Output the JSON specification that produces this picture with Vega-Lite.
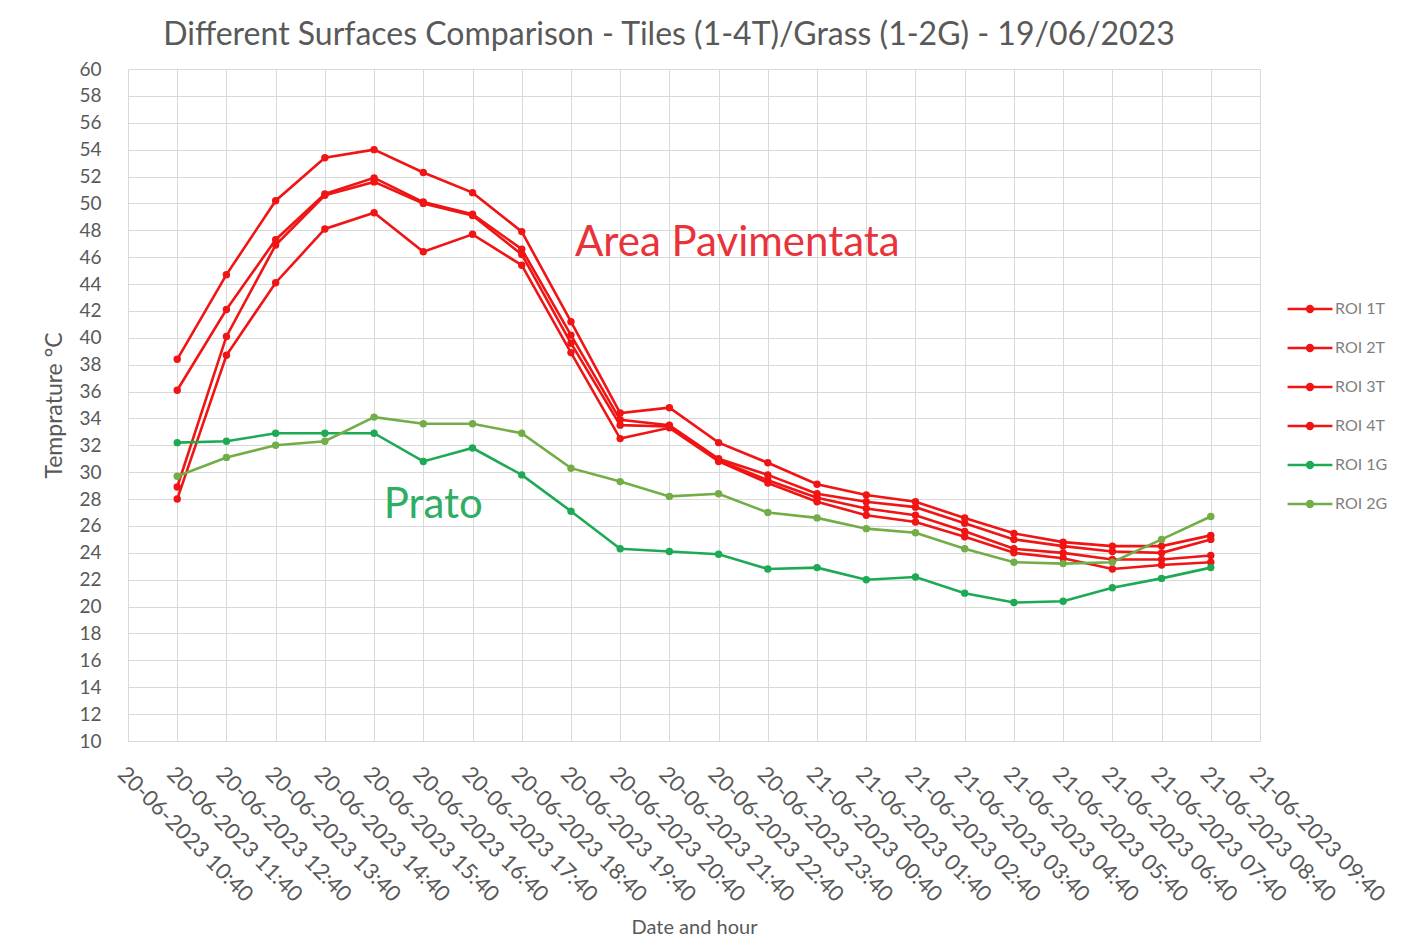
{
  "$schema": "https://vega.github.io/schema/vega-lite/v6.json",
  "width": 1132,
  "height": 672,
  "autosize": "none",
  "padding": {"left": 128, "top": 69, "right": 157, "bottom": 206},
  "background": "white",
  "title": {
    "text": "Different Surfaces Comparison - Tiles (1-4T)/Grass (1-2G) - 19/06/2023",
    "font": "Lato",
    "fontSize": 32,
    "fontWeight": "normal",
    "color": "#595959",
    "anchor": "middle",
    "dx": -25,
    "offset": 8
  },
  "datasets": {
    "series": [
      {"t": "20-06-2023 11:40", "s": "ROI 1T", "v": 38.4},
      {"t": "20-06-2023 12:40", "s": "ROI 1T", "v": 44.7},
      {"t": "20-06-2023 13:40", "s": "ROI 1T", "v": 50.2},
      {"t": "20-06-2023 14:40", "s": "ROI 1T", "v": 53.4},
      {"t": "20-06-2023 15:40", "s": "ROI 1T", "v": 54.0},
      {"t": "20-06-2023 16:40", "s": "ROI 1T", "v": 52.3},
      {"t": "20-06-2023 17:40", "s": "ROI 1T", "v": 50.8},
      {"t": "20-06-2023 18:40", "s": "ROI 1T", "v": 47.9},
      {"t": "20-06-2023 19:40", "s": "ROI 1T", "v": 41.2},
      {"t": "20-06-2023 20:40", "s": "ROI 1T", "v": 34.4},
      {"t": "20-06-2023 21:40", "s": "ROI 1T", "v": 34.8},
      {"t": "20-06-2023 22:40", "s": "ROI 1T", "v": 32.2},
      {"t": "20-06-2023 23:40", "s": "ROI 1T", "v": 30.7},
      {"t": "21-06-2023 00:40", "s": "ROI 1T", "v": 29.1},
      {"t": "21-06-2023 01:40", "s": "ROI 1T", "v": 28.3},
      {"t": "21-06-2023 02:40", "s": "ROI 1T", "v": 27.8},
      {"t": "21-06-2023 03:40", "s": "ROI 1T", "v": 26.6},
      {"t": "21-06-2023 04:40", "s": "ROI 1T", "v": 25.45},
      {"t": "21-06-2023 05:40", "s": "ROI 1T", "v": 24.8},
      {"t": "21-06-2023 06:40", "s": "ROI 1T", "v": 24.5},
      {"t": "21-06-2023 07:40", "s": "ROI 1T", "v": 24.5},
      {"t": "21-06-2023 08:40", "s": "ROI 1T", "v": 25.3},

      {"t": "20-06-2023 11:40", "s": "ROI 2T", "v": 36.1},
      {"t": "20-06-2023 12:40", "s": "ROI 2T", "v": 42.1},
      {"t": "20-06-2023 13:40", "s": "ROI 2T", "v": 47.3},
      {"t": "20-06-2023 14:40", "s": "ROI 2T", "v": 50.7},
      {"t": "20-06-2023 15:40", "s": "ROI 2T", "v": 51.9},
      {"t": "20-06-2023 16:40", "s": "ROI 2T", "v": 50.1},
      {"t": "20-06-2023 17:40", "s": "ROI 2T", "v": 49.2},
      {"t": "20-06-2023 18:40", "s": "ROI 2T", "v": 46.6},
      {"t": "20-06-2023 19:40", "s": "ROI 2T", "v": 40.2},
      {"t": "20-06-2023 20:40", "s": "ROI 2T", "v": 33.9},
      {"t": "20-06-2023 21:40", "s": "ROI 2T", "v": 33.5},
      {"t": "20-06-2023 22:40", "s": "ROI 2T", "v": 31.0},
      {"t": "20-06-2023 23:40", "s": "ROI 2T", "v": 29.8},
      {"t": "21-06-2023 00:40", "s": "ROI 2T", "v": 28.4},
      {"t": "21-06-2023 01:40", "s": "ROI 2T", "v": 27.8},
      {"t": "21-06-2023 02:40", "s": "ROI 2T", "v": 27.4},
      {"t": "21-06-2023 03:40", "s": "ROI 2T", "v": 26.2},
      {"t": "21-06-2023 04:40", "s": "ROI 2T", "v": 25.0},
      {"t": "21-06-2023 05:40", "s": "ROI 2T", "v": 24.5},
      {"t": "21-06-2023 06:40", "s": "ROI 2T", "v": 24.1},
      {"t": "21-06-2023 07:40", "s": "ROI 2T", "v": 24.0},
      {"t": "21-06-2023 08:40", "s": "ROI 2T", "v": 25.0},

      {"t": "20-06-2023 11:40", "s": "ROI 3T", "v": 28.9},
      {"t": "20-06-2023 12:40", "s": "ROI 3T", "v": 40.1},
      {"t": "20-06-2023 13:40", "s": "ROI 3T", "v": 46.9},
      {"t": "20-06-2023 14:40", "s": "ROI 3T", "v": 50.6},
      {"t": "20-06-2023 15:40", "s": "ROI 3T", "v": 51.6},
      {"t": "20-06-2023 16:40", "s": "ROI 3T", "v": 50.0},
      {"t": "20-06-2023 17:40", "s": "ROI 3T", "v": 49.1},
      {"t": "20-06-2023 18:40", "s": "ROI 3T", "v": 46.2},
      {"t": "20-06-2023 19:40", "s": "ROI 3T", "v": 39.6},
      {"t": "20-06-2023 20:40", "s": "ROI 3T", "v": 33.5},
      {"t": "20-06-2023 21:40", "s": "ROI 3T", "v": 33.4},
      {"t": "20-06-2023 22:40", "s": "ROI 3T", "v": 30.9},
      {"t": "20-06-2023 23:40", "s": "ROI 3T", "v": 29.4},
      {"t": "21-06-2023 00:40", "s": "ROI 3T", "v": 28.1},
      {"t": "21-06-2023 01:40", "s": "ROI 3T", "v": 27.3},
      {"t": "21-06-2023 02:40", "s": "ROI 3T", "v": 26.8},
      {"t": "21-06-2023 03:40", "s": "ROI 3T", "v": 25.6},
      {"t": "21-06-2023 04:40", "s": "ROI 3T", "v": 24.3},
      {"t": "21-06-2023 05:40", "s": "ROI 3T", "v": 24.0},
      {"t": "21-06-2023 06:40", "s": "ROI 3T", "v": 23.5},
      {"t": "21-06-2023 07:40", "s": "ROI 3T", "v": 23.5},
      {"t": "21-06-2023 08:40", "s": "ROI 3T", "v": 23.8},

      {"t": "20-06-2023 11:40", "s": "ROI 4T", "v": 28.0},
      {"t": "20-06-2023 12:40", "s": "ROI 4T", "v": 38.7},
      {"t": "20-06-2023 13:40", "s": "ROI 4T", "v": 44.1},
      {"t": "20-06-2023 14:40", "s": "ROI 4T", "v": 48.1},
      {"t": "20-06-2023 15:40", "s": "ROI 4T", "v": 49.3},
      {"t": "20-06-2023 16:40", "s": "ROI 4T", "v": 46.4},
      {"t": "20-06-2023 17:40", "s": "ROI 4T", "v": 47.7},
      {"t": "20-06-2023 18:40", "s": "ROI 4T", "v": 45.4},
      {"t": "20-06-2023 19:40", "s": "ROI 4T", "v": 38.9},
      {"t": "20-06-2023 20:40", "s": "ROI 4T", "v": 32.5},
      {"t": "20-06-2023 21:40", "s": "ROI 4T", "v": 33.3},
      {"t": "20-06-2023 22:40", "s": "ROI 4T", "v": 30.8},
      {"t": "20-06-2023 23:40", "s": "ROI 4T", "v": 29.2},
      {"t": "21-06-2023 00:40", "s": "ROI 4T", "v": 27.8},
      {"t": "21-06-2023 01:40", "s": "ROI 4T", "v": 26.8},
      {"t": "21-06-2023 02:40", "s": "ROI 4T", "v": 26.3},
      {"t": "21-06-2023 03:40", "s": "ROI 4T", "v": 25.2},
      {"t": "21-06-2023 04:40", "s": "ROI 4T", "v": 24.0},
      {"t": "21-06-2023 05:40", "s": "ROI 4T", "v": 23.6},
      {"t": "21-06-2023 06:40", "s": "ROI 4T", "v": 22.8},
      {"t": "21-06-2023 07:40", "s": "ROI 4T", "v": 23.1},
      {"t": "21-06-2023 08:40", "s": "ROI 4T", "v": 23.3},

      {"t": "20-06-2023 11:40", "s": "ROI 1G", "v": 32.2},
      {"t": "20-06-2023 12:40", "s": "ROI 1G", "v": 32.3},
      {"t": "20-06-2023 13:40", "s": "ROI 1G", "v": 32.9},
      {"t": "20-06-2023 14:40", "s": "ROI 1G", "v": 32.9},
      {"t": "20-06-2023 15:40", "s": "ROI 1G", "v": 32.9},
      {"t": "20-06-2023 16:40", "s": "ROI 1G", "v": 30.8},
      {"t": "20-06-2023 17:40", "s": "ROI 1G", "v": 31.8},
      {"t": "20-06-2023 18:40", "s": "ROI 1G", "v": 29.8},
      {"t": "20-06-2023 19:40", "s": "ROI 1G", "v": 27.1},
      {"t": "20-06-2023 20:40", "s": "ROI 1G", "v": 24.3},
      {"t": "20-06-2023 21:40", "s": "ROI 1G", "v": 24.1},
      {"t": "20-06-2023 22:40", "s": "ROI 1G", "v": 23.9},
      {"t": "20-06-2023 23:40", "s": "ROI 1G", "v": 22.8},
      {"t": "21-06-2023 00:40", "s": "ROI 1G", "v": 22.9},
      {"t": "21-06-2023 01:40", "s": "ROI 1G", "v": 22.0},
      {"t": "21-06-2023 02:40", "s": "ROI 1G", "v": 22.2},
      {"t": "21-06-2023 03:40", "s": "ROI 1G", "v": 21.0},
      {"t": "21-06-2023 04:40", "s": "ROI 1G", "v": 20.3},
      {"t": "21-06-2023 05:40", "s": "ROI 1G", "v": 20.4},
      {"t": "21-06-2023 06:40", "s": "ROI 1G", "v": 21.4},
      {"t": "21-06-2023 07:40", "s": "ROI 1G", "v": 22.1},
      {"t": "21-06-2023 08:40", "s": "ROI 1G", "v": 22.9},

      {"t": "20-06-2023 11:40", "s": "ROI 2G", "v": 29.7},
      {"t": "20-06-2023 12:40", "s": "ROI 2G", "v": 31.1},
      {"t": "20-06-2023 13:40", "s": "ROI 2G", "v": 32.0},
      {"t": "20-06-2023 14:40", "s": "ROI 2G", "v": 32.3},
      {"t": "20-06-2023 15:40", "s": "ROI 2G", "v": 34.1},
      {"t": "20-06-2023 16:40", "s": "ROI 2G", "v": 33.6},
      {"t": "20-06-2023 17:40", "s": "ROI 2G", "v": 33.6},
      {"t": "20-06-2023 18:40", "s": "ROI 2G", "v": 32.9},
      {"t": "20-06-2023 19:40", "s": "ROI 2G", "v": 30.3},
      {"t": "20-06-2023 20:40", "s": "ROI 2G", "v": 29.3},
      {"t": "20-06-2023 21:40", "s": "ROI 2G", "v": 28.2},
      {"t": "20-06-2023 22:40", "s": "ROI 2G", "v": 28.4},
      {"t": "20-06-2023 23:40", "s": "ROI 2G", "v": 27.0},
      {"t": "21-06-2023 00:40", "s": "ROI 2G", "v": 26.6},
      {"t": "21-06-2023 01:40", "s": "ROI 2G", "v": 25.8},
      {"t": "21-06-2023 02:40", "s": "ROI 2G", "v": 25.5},
      {"t": "21-06-2023 03:40", "s": "ROI 2G", "v": 24.3},
      {"t": "21-06-2023 04:40", "s": "ROI 2G", "v": 23.3},
      {"t": "21-06-2023 05:40", "s": "ROI 2G", "v": 23.2},
      {"t": "21-06-2023 06:40", "s": "ROI 2G", "v": 23.3},
      {"t": "21-06-2023 07:40", "s": "ROI 2G", "v": 25.0},
      {"t": "21-06-2023 08:40", "s": "ROI 2G", "v": 26.7}
    ]
  },
  "data": {"name": "series"},
  "encoding": {
    "x": {
      "field": "t",
      "type": "ordinal",
      "sort": null,
      "scale": {
        "type": "point",
        "padding": 0,
        "domain": [
          "20-06-2023 10:40", "20-06-2023 11:40", "20-06-2023 12:40", "20-06-2023 13:40",
          "20-06-2023 14:40", "20-06-2023 15:40", "20-06-2023 16:40", "20-06-2023 17:40",
          "20-06-2023 18:40", "20-06-2023 19:40", "20-06-2023 20:40", "20-06-2023 21:40",
          "20-06-2023 22:40", "20-06-2023 23:40", "21-06-2023 00:40", "21-06-2023 01:40",
          "21-06-2023 02:40", "21-06-2023 03:40", "21-06-2023 04:40", "21-06-2023 05:40",
          "21-06-2023 06:40", "21-06-2023 07:40", "21-06-2023 08:40", "21-06-2023 09:40"
        ]
      },
      "axis": {
        "title": "Date and hour",
        "titleFont": "Lato",
        "titleFontSize": 20,
        "titleFontWeight": "normal",
        "titleColor": "#595959",
        "titlePadding": 12,
        "labelAngle": 45,
        "labelAlign": "left",
        "labelBaseline": "top",
        "labelFont": "Lato",
        "labelFontSize": 22,
        "labelColor": "#595959",
        "labelPadding": 22,
        "labelLimit": 400,
        "labelOverlap": false,
        "labelBound": false,
        "ticks": false,
        "grid": true,
        "gridColor": "#D9D9D9",
        "gridWidth": 1,
        "domainColor": "#D9D9D9"
      }
    },
    "y": {
      "field": "v",
      "type": "quantitative",
      "scale": {"domain": [10, 60], "nice": false, "zero": false},
      "axis": {
        "title": "Temprature °C",
        "titleFont": "Lato",
        "titleFontSize": 23,
        "titleFontWeight": "normal",
        "titleColor": "#595959",
        "titlePadding": 12,
        "values": [10, 12, 14, 16, 18, 20, 22, 24, 26, 28, 30, 32, 34, 36, 38, 40, 42, 44, 46, 48, 50, 52, 54, 56, 58, 60],
        "labelFont": "Lato",
        "labelFontSize": 19,
        "labelColor": "#595959",
        "labelPadding": 27,
        "ticks": false,
        "domain": false,
        "grid": true,
        "gridColor": "#D9D9D9",
        "gridWidth": 1
      }
    }
  },
  "layer": [
    {
      "mark": {"type": "line", "strokeWidth": 2.6, "point": {"filled": true, "size": 55}},
      "encoding": {
        "color": {
          "field": "s",
          "type": "nominal",
          "scale": {
            "domain": ["ROI 1T", "ROI 2T", "ROI 3T", "ROI 4T", "ROI 1G", "ROI 2G"],
            "range": ["#F01414", "#F01414", "#F01414", "#F01414", "#1DAA55", "#72AD47"]
          },
          "legend": {
            "title": null,
            "orient": "none",
            "legendX": 1161,
            "legendY": 219,
            "labelFont": "Lato",
            "labelFontSize": 16,
            "labelColor": "#7F7F7F",
            "labelOffset": 4,
            "rowPadding": 10,
            "symbolType": "M-1.15,0L1.15,0M-0.15,0A0.15,0.15 0 1,0 0.15,0A0.15,0.15 0 1,0 -0.15,0",
            "symbolSize": 1521,
            "symbolStrokeWidth": 2.5
          }
        }
      }
    },
    {
      "data": {"values": [{"t": "20-06-2023 19:40", "v": 47.05, "label": "Area Pavimentata"}]},
      "mark": {"type": "text", "align": "left", "baseline": "middle", "dx": 4, "font": "Lato", "fontSize": 42, "color": "#E8333B"},
      "encoding": {"text": {"field": "label"}}
    },
    {
      "data": {"values": [{"t": "20-06-2023 16:40", "v": 27.56, "label": "Prato"}]},
      "mark": {"type": "text", "align": "center", "baseline": "middle", "dx": 10, "font": "Lato", "fontSize": 42, "color": "#2DAE62"},
      "encoding": {"text": {"field": "label"}}
    }
  ],
  "config": {
    "view": {"stroke": null}
  }
}
